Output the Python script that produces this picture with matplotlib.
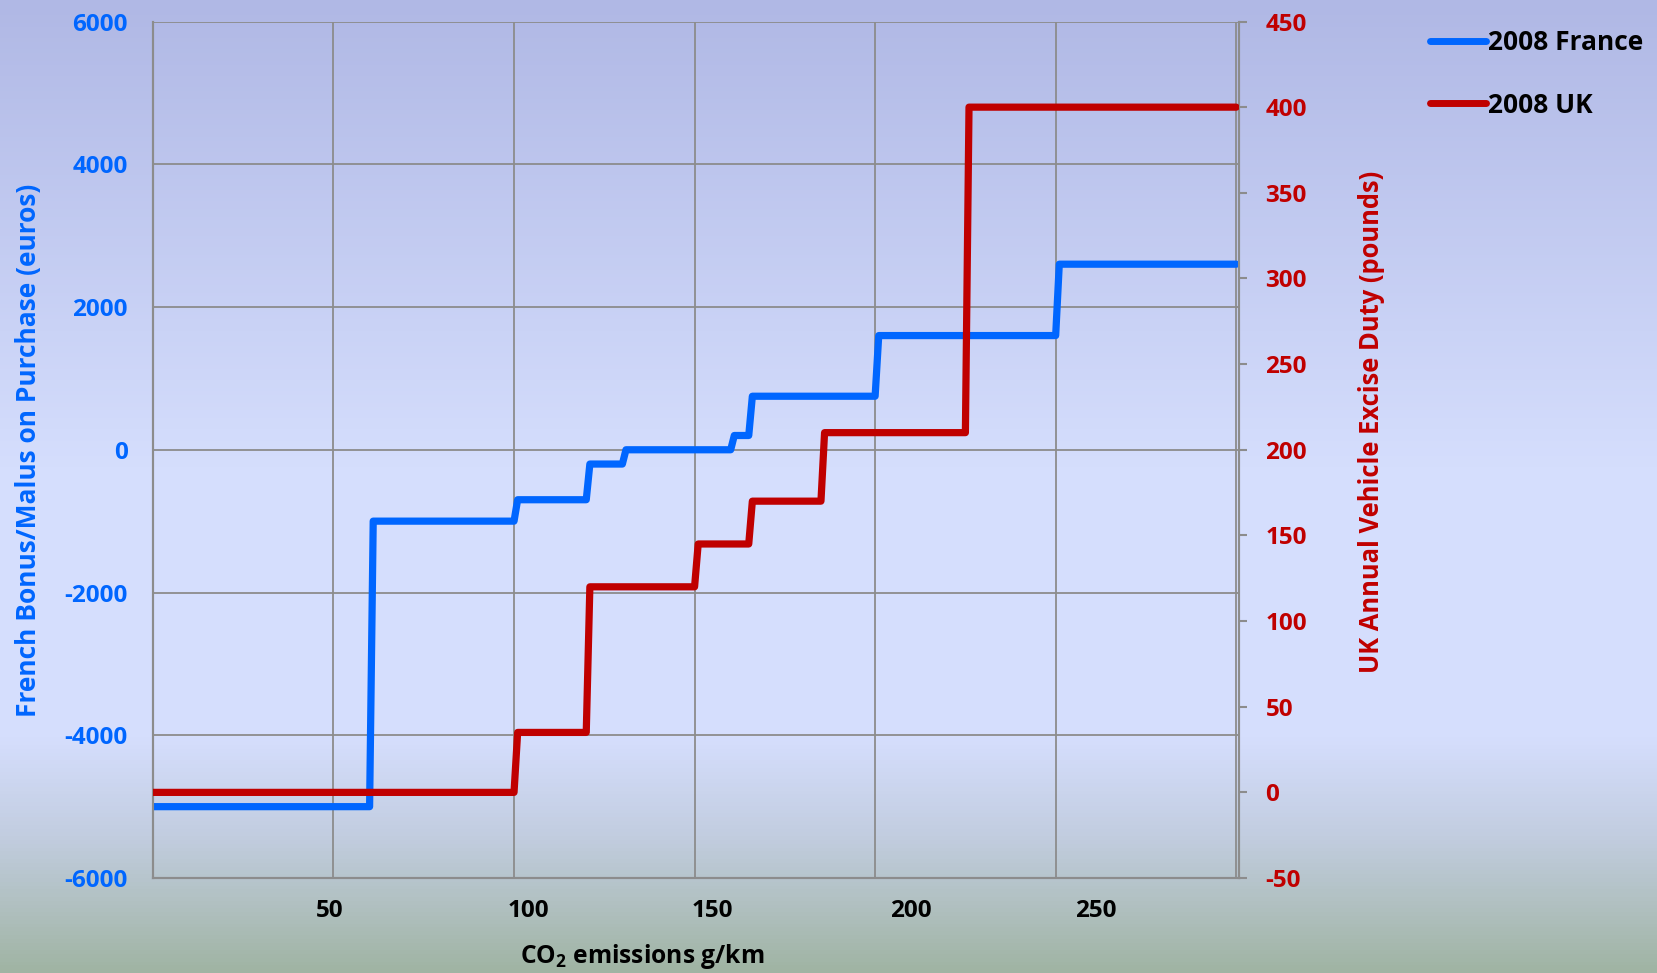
import numpy as np
import matplotlib.pyplot as plt
from matplotlib.colors import LinearSegmentedColormap
from matplotlib.lines import Line2D

# CO2 emissions axis (g/km), one point per gram
co2 = np.arange(0, 301)

# French bonus/malus bands: upper limits (g/km) and amounts (euros)
fr_limits = [60, 100, 120, 130, 160, 165, 200, 250]
fr_amounts = [-5000, -1000, -700, -200, 0, 200, 750, 1600, 2600]

# UK vehicle excise duty bands: upper limits (g/km) and annual duty (pounds)
uk_limits = [100, 120, 150, 165, 185, 225]
uk_amounts = [0, 35, 120, 145, 170, 210, 400]

x_grid_ticks = [50, 100, 150, 200, 250, 300]
x_label_pos = [49, 104, 155, 210, 261]
x_labels = ["50", "100", "150", "200", "250"]
left_ticks = [-6000, -4000, -2000, 0, 2000, 4000, 6000]
right_ticks = [-50, 0, 50, 100, 150, 200, 250, 300, 350, 400, 450]

france = np.array(fr_amounts)[np.searchsorted(fr_limits, co2, side="left")]
uk = np.array(uk_amounts)[np.searchsorted(uk_limits, co2, side="left")]

BLUE = "#0066FF"
RED = "#C00000"
GRID = "#8C8C8C"

plt.rcParams["font.family"] = ["Open Sans", "DejaVu Sans"]
plt.rcParams["font.weight"] = "bold"
plt.rcParams["axes.unicode_minus"] = False
plt.rcParams["mathtext.fontset"] = "custom"
plt.rcParams["mathtext.rm"] = "Open Sans:bold"
plt.rcParams["mathtext.default"] = "rm"

fig = plt.figure(figsize=(16.57, 9.73), dpi=100)

# Vertical gradient background
bg = fig.add_axes([0, 0, 1, 1], zorder=-10)
cmap = LinearSegmentedColormap.from_list(
    "bg",
    [(0.0, "#B0B8E5"), (0.48, "#D5DEFD"), (0.76, "#D5DEFD"),
     (0.86, "#C2CDE0"), (1.0, "#A0B4A3")],
)
bg.imshow(np.linspace(0, 1, 256).reshape(-1, 1), aspect="auto", cmap=cmap,
          extent=[0, 1, 1, 0])
bg.set_axis_off()

ax = fig.add_axes([0.0923, 0.0976, 0.6555, 0.8803])
ax.patch.set_alpha(0)
ax2 = ax.twinx()

ax.plot(co2, france, color=BLUE, lw=5.2, solid_joinstyle="round",
        solid_capstyle="round", zorder=3)
ax2.plot(co2, uk, color=RED, lw=5.2, solid_joinstyle="round",
         solid_capstyle="round", zorder=3)

ax.set_xlim(0, 300.8)
ax.set_ylim(-6000, 6000)
ax2.set_ylim(-50, 450)

ax.set_xticks(x_grid_ticks)
ax.set_xticklabels([])
ax.set_xticks(x_label_pos, minor=True)
ax.set_xticklabels(x_labels, minor=True)
ax.tick_params(axis="x", which="both", length=0, pad=15)
ax.tick_params(axis="x", which="minor", labelsize=17.5, labelcolor="black")

ax.set_yticks(left_ticks)
ax.tick_params(axis="y", length=0, pad=18, labelsize=17.5, labelcolor=BLUE)

ax2.set_yticks(right_ticks)
ax2.tick_params(axis="y", length=6, width=1.5, color=GRID, pad=13,
                labelsize=17.5, labelcolor=RED)

ax.grid(True, which="major", color=GRID, lw=1.3)
ax.set_axisbelow(True)
for a in (ax, ax2):
    for s in a.spines.values():
        s.set_color(GRID)
        s.set_linewidth(1.5)
    a.spines["top"].set_visible(False)

fig.text(0.3875, 0.002, r"CO$_\mathregular{2}$ emissions g/km", ha="center",
         va="bottom", fontsize=17.7)
fig.text(0.017, 0.537, "French Bonus/Malus on Purchase (euros)", rotation=90,
         ha="center", va="center", fontsize=19, color=BLUE)
fig.text(0.828, 0.566, "UK Annual Vehicle Excise Duty (pounds)", rotation=90,
         ha="center", va="center", fontsize=18.4, color=RED)

handles = [Line2D([], [], color=BLUE, lw=5, solid_capstyle="round"),
           Line2D([], [], color=RED, lw=5, solid_capstyle="round")]
fig.legend(handles, ["2008 France", "2008 UK"], loc="upper left",
           bbox_to_anchor=(0.8505, 0.992), frameon=False, handlelength=2.1,
           handletextpad=0.1, labelspacing=1.35, borderpad=0.3,
           prop={"size": 19})

fig.savefig("out.png", dpi=100)
